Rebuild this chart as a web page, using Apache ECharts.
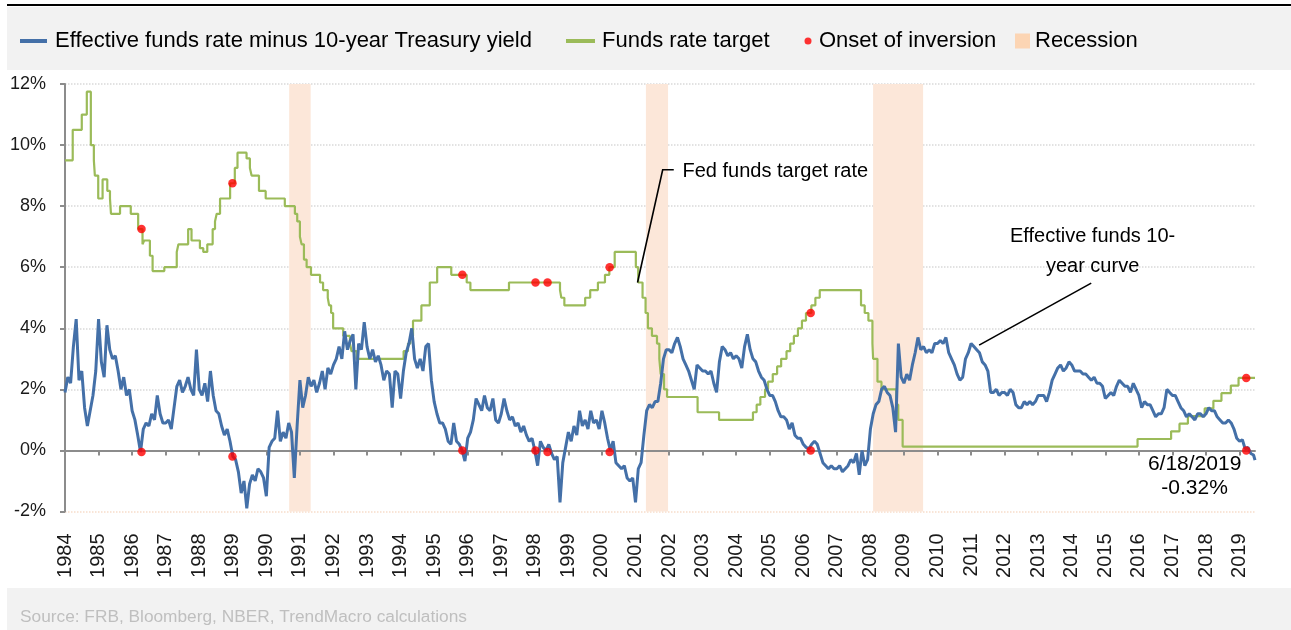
<!DOCTYPE html>
<html><head><meta charset="utf-8">
<script src="https://cdn.jsdelivr.net/npm/echarts@6/dist/echarts.min.js"></script>
<style>html,body{margin:0;padding:0;background:#fff;}#c{width:1291px;height:630px;}</style>
</head><body><div id="c"></div>
<script>
// ---------- DATA ----------
const yearLabels = [1984,1985,1986,1987,1988,1989,1990,1991,1992,1993,1994,1995,1996,1997,1998,1999,2000,2001,2002,2003,2004,2005,2006,2007,2008,2009,2010,2011,2012,2013,2014,2015,2016,2017,2018,2019];
const yTickValues = [-2,0,2,4,6,8,10,12];

// Effective funds rate minus 10-year Treasury yield, monthly from Jan 1984 (%)
const spreadStartYear = 1984;
const spreadMonthly = [
 1.9,2.4,2.2,3.4,4.3,2.3,2.6,1.4,0.8,1.3,1.8,2.6,      // 1984
 4.3,2.9,2.4,4.1,3.3,3.0,3.1,2.6,2.0,2.4,1.8,2.0,      // 1985
 1.3,1.0,0.5,-0.05,0.7,0.9,0.8,1.2,1.0,1.8,1.2,0.9,    // 1986
 0.9,1.0,0.7,1.4,2.1,2.3,1.9,2.1,2.4,2.0,1.8,3.3,      // 1987
 2.0,1.8,2.2,1.6,2.6,1.8,1.3,1.2,0.8,0.5,0.7,0.3,      // 1988
 -0.2,-0.3,-0.7,-1.4,-1.0,-1.9,-1.1,-0.8,-1.0,-0.6,-0.7,-0.9, // 1989
 -1.5,0.1,0.3,0.4,1.3,0.3,0.6,0.4,0.9,0.6,-0.9,0.8,    // 1990
 2.3,1.4,1.8,2.4,2.1,2.3,1.9,2.2,2.6,2.0,2.7,2.5,      // 1991
 2.8,3.0,3.4,3.0,3.9,3.3,3.6,3.8,2.0,3.5,3.3,4.2,      // 1992
 3.4,3.0,3.3,2.9,3.1,2.8,2.3,2.6,2.5,1.4,2.6,2.5,      // 1993
 1.7,2.6,3.2,3.5,4.0,3.0,2.7,3.0,2.6,3.4,3.5,2.3,      // 1994
 1.6,1.2,0.9,0.9,0.7,0.3,0.2,0.9,0.3,0.2,0.0,-0.35,    // 1995
 0.4,0.6,1.0,1.7,1.5,1.3,1.8,1.4,1.3,1.7,1.0,0.9,      // 1996
 1.2,1.7,1.3,1.0,1.1,0.8,0.9,0.6,0.8,0.5,0.3,0.4,      // 1997
 0.0,-0.5,0.3,0.1,0.0,0.2,-0.1,-0.3,-0.2,-1.7,-0.4,0.1, // 1998
 0.6,0.3,0.8,0.5,1.3,0.8,1.0,0.7,1.3,0.9,1.0,0.7,      // 1999
 1.3,0.9,0.4,0.0,0.3,-0.4,-0.5,-0.6,-0.5,-0.9,-1.0,-0.9, // 2000
 -1.7,-0.6,-0.4,0.5,1.3,1.5,1.4,1.6,1.6,2.2,3.0,3.3,   // 2001
 3.3,3.2,3.5,3.7,3.4,3.0,2.8,2.6,2.3,2.0,2.8,2.7,      // 2002
 2.6,2.6,2.5,2.6,2.2,1.9,2.9,3.4,3.3,3.1,3.2,3.0,      // 2003
 3.1,3.0,2.7,3.4,3.8,3.3,3.0,2.9,2.6,2.4,2.3,2.0,      // 2004
 1.8,1.8,1.6,1.3,1.1,1.1,1.0,0.7,0.9,0.5,0.4,0.4,      // 2005
 0.2,0.1,0.05,0.2,0.3,0.2,-0.1,-0.4,-0.5,-0.6,-0.5,-0.6, // 2006
 -0.6,-0.5,-0.7,-0.6,-0.5,-0.3,-0.4,-0.1,-0.8,0.0,-0.5,-0.3, // 2007
 0.7,1.2,1.5,1.6,2.0,2.1,1.9,1.8,1.4,0.6,3.5,2.4,      // 2008
 2.2,2.5,2.3,2.8,3.2,3.7,3.3,3.4,3.2,3.3,3.2,3.5,      // 2009
 3.5,3.6,3.5,3.7,3.2,3.0,2.8,2.5,2.3,2.4,3.0,3.2,      // 2010
 3.5,3.4,3.3,3.2,2.9,2.8,2.6,1.9,1.9,2.0,1.8,1.9,      // 2011
 1.9,1.8,2.0,1.9,1.5,1.4,1.4,1.6,1.5,1.6,1.5,1.6,      // 2012
 1.8,1.8,1.8,1.6,1.9,2.3,2.5,2.7,2.8,2.6,2.7,2.9,      // 2013
 2.8,2.6,2.6,2.6,2.5,2.5,2.4,2.3,2.4,2.2,2.2,2.1,      // 2014
 1.7,1.8,1.9,1.8,2.1,2.3,2.2,2.1,2.1,1.9,2.2,2.0,      // 2015
 1.8,1.4,1.6,1.5,1.5,1.3,1.1,1.2,1.2,1.4,2.0,1.9,      // 2016
 1.8,1.8,1.6,1.4,1.3,1.1,1.2,1.1,1.0,1.2,1.2,1.1,      // 2017
 1.2,1.4,1.3,1.3,1.1,1.0,0.9,0.9,1.0,0.9,0.7,0.4,      // 2018
 0.3,0.35,0.05,0.1,-0.1,-0.15                          // 2019
];
const spreadLastDate = 2019.46;   // 6/18/2019
const spreadLastValue = -0.32;

// Fed funds rate target: date of change (decimal year) and new level (%)
const targetDates = [1984.00,1984.23,1984.50,1984.65,1984.77,1984.86,1984.89,1984.99,1985.12,1985.26,1985.34,1985.37,1985.64,1985.96,
 1986.18,1986.31,1986.36,1986.53,1986.61,1986.96,1987.33,1987.38,1987.67,1987.77,1988.02,1988.12,1988.24,1988.40,1988.47,1988.52,1988.62,
 1988.92,1989.06,1989.14,1989.41,1989.51,1989.56,1989.78,1989.98,1990.55,1990.85,1990.92,1991.00,1991.05,1991.12,1991.20,1991.33,1991.60,
 1991.69,1991.83,1991.87,1991.93,1991.99,1992.29,1992.49,1992.54,1992.69,1994.09,1994.22,1994.29,1994.37,1994.62,1994.87,1995.09,1995.51,
 1995.97,1996.08,1997.23,1998.75,1998.79,1998.88,1999.50,1999.65,1999.88,2000.09,2000.22,2000.38,2001.01,2001.08,2001.21,2001.30,2001.37,
 2001.49,2001.64,2001.71,2001.75,2001.85,2001.94,2002.85,2003.49,2004.50,2004.61,2004.72,2004.86,2004.95,2005.09,2005.22,2005.34,2005.50,
 2005.61,2005.72,2005.84,2005.96,2006.08,2006.24,2006.36,2006.49,2007.72,2007.83,2007.94,2008.06,2008.08,2008.21,2008.33,2008.77,2008.83,
 2008.96,2015.96,2016.96,2017.21,2017.46,2017.96,2018.22,2018.46,2018.74,2018.97,2019.46];
const targetValues = [9.5,10.5,11.0,11.75,10.0,9.5,9.0,8.25,8.875,8.5,8.25,7.75,8.0,7.75,
 7.25,6.75,6.875,6.375,5.875,6.0,6.5,6.75,7.25,6.875,6.625,6.5,6.75,7.25,7.5,7.75,8.25,
 8.75,9.25,9.75,9.5625,9.25,9.0,8.5,8.25,8.0,7.75,7.5,7.0,6.75,6.25,6.0,5.75,5.5,
 5.25,5.0,4.75,4.5,4.0,3.75,3.5,3.25,3.0,3.25,3.5,3.75,4.25,4.75,5.5,6.0,5.75,
 5.5,5.25,5.5,5.25,5.0,4.75,5.0,5.25,5.5,5.75,6.0,6.5,6.0,5.5,5.0,4.5,4.0,
 3.75,3.5,3.0,2.5,2.0,1.75,1.25,1.0,1.25,1.5,1.75,2.0,2.25,2.5,2.75,3.0,3.25,
 3.5,3.75,4.0,4.25,4.5,4.75,5.0,5.25,4.75,4.5,4.25,3.5,3.0,2.25,2.0,1.5,1.0,
 0.125,0.375,0.625,0.875,1.125,1.375,1.625,1.875,2.125,2.375,2.375];

// Onset of inversion markers
const onsetDates  = [1986.28,1988.99,1995.84,1998.02,1998.38,2000.23,2006.22,2019.20,
                     1986.28,1988.99,1995.84,1998.02,1998.38,2000.23,2006.22,2019.20];
const onsetValues = [7.25,8.75,5.75,5.5,5.5,6.0,4.5,2.375,
                     -0.05,-0.2,0.0,0.0,-0.05,-0.05,0.0,0.0];

// Recessions (decimal years)
const recessionStarts = [1990.68, 2001.31, 2008.08];
const recessionEnds   = [1991.32, 2001.97, 2009.57];

// ---------- CHART ----------
const SANS = "'Liberation Sans',Arial,sans-serif";

const spreadData = spreadMonthly.map((v, i) => [spreadStartYear + i / 12, v]);
spreadData.push([spreadLastDate, spreadLastValue]);
const targetData = targetDates.map((d, i) => [d, targetValues[i]]);
const onsetData = onsetDates.map((d, i) => [d, onsetValues[i]]);

const chart = echarts.init(document.getElementById('c'), null, {renderer: 'canvas'});
const legendText = {fontFamily: SANS, fontSize: 22, color: '#000'};
const X_MIN = yearLabels[0], X_MAX = spreadLastDate;

chart.setOption({
  animation: false,
  backgroundColor: '#fff',
  grid: {left: 65, right: 36, top: 84, bottom: 118.5, containLabel: false},
  legend: [
    {left: 20, top: 30, padding: 0, selectedMode: false, itemWidth: 30, itemHeight: 14,
     icon: 'path://M0,0M30,14M0,5h27v4h-27z', textStyle: legendText,
     data: ['Effective funds rate minus 10-year Treasury yield']},
    {left: 566, top: 30, padding: 0, selectedMode: false, itemWidth: 31, itemHeight: 14,
     icon: 'path://M0,0M31,14M0,5h29v4h-29z', textStyle: legendText,
     data: ['Funds rate target']},
    {left: 800, top: 30, padding: 0, selectedMode: false, itemWidth: 14, itemHeight: 14,
     icon: 'path://M0,0M14,14M4.5,7a3.5,3.5 0 1,0 7,0a3.5,3.5 0 1,0 -7,0z', textStyle: legendText,
     data: ['Onset of inversion']},
    {left: 1015, top: 30, padding: 0, selectedMode: false, itemWidth: 15, itemHeight: 15,
     icon: 'rect', textStyle: legendText, data: ['Recession']}
  ],
  xAxis: [
    {type: 'value', min: X_MIN, max: X_MAX, interval: 1, position: 'bottom',
     axisLine: {show: false, onZero: false}, axisTick: {show: false}, splitLine: {show: false},
     axisLabel: {rotate: 90, margin: 22, fontSize: 20, fontFamily: SANS, color: '#1a1a1a',
                 customValues: yearLabels, formatter: v => String(Math.round(v))}},
    {type: 'value', min: X_MIN, max: X_MAX, interval: 1, position: 'bottom', z: 2,
     axisLine: {show: true, onZero: true, lineStyle: {color: '#8c8c8c', width: 2}},
     axisTick: {show: true, length: 5, customValues: yearLabels, lineStyle: {color: '#8c8c8c', width: 2}},
     axisLabel: {show: false}, splitLine: {show: false}}
  ],
  yAxis: {type: 'value', min: yTickValues[0], max: yTickValues[yTickValues.length - 1], interval: 2,
    axisLine: {show: true, lineStyle: {color: '#8c8c8c', width: 2}},
    axisTick: {show: true, length: 5, lineStyle: {color: '#8c8c8c', width: 2}},
    axisLabel: {formatter: '{value}%', fontSize: 18, fontFamily: SANS, color: '#1a1a1a', margin: 19},
    splitLine: {show: true, lineStyle: {type: 'dotted', width: 1.5,
      color: ['#f8ddca','#d9d9d9','#d9d9d9','#d9d9d9','#d9d9d9','#d9d9d9','#d9d9d9','#d9d9d9']}}
  },
  series: [
    {name: 'Recession', type: 'line', data: [], color: '#fcd5b4', z: 1,
     markArea: {silent: true, z: 1, itemStyle: {color: '#fce7d9'},
       data: recessionStarts.map((s, i) => [{xAxis: s}, {xAxis: recessionEnds[i]}])}},
    {name: 'Funds rate target', type: 'line', step: 'end', data: targetData, color: '#9bbb59',
     showSymbol: false, symbol: 'none', z: 3, lineStyle: {color: '#9bbb59', width: 2.2}},
    {name: 'Effective funds rate minus 10-year Treasury yield', type: 'line', data: spreadData,
     color: '#4470a8', showSymbol: false, symbol: 'none', z: 4,
     lineStyle: {color: '#4470a8', width: 3}},
    {name: 'Onset of inversion', type: 'scatter', data: onsetData, color: '#ff0000',
     symbolSize: 8.5, z: 5, itemStyle: {color: '#ff0000'}}
  ]
});

// ---------- DECORATION & ANNOTATIONS ----------
function px(x, y) { return chart.convertToPixel({xAxisIndex: 0, yAxisIndex: 0}, [x, y]); }
const fedLine = [[2001.06, 5.5], [2001.81, 9.19], [2002.14, 9.19]].map(p => px(p[0], p[1]));
const fedText = px(2002.40, 9.15);
const effLine = [[2011.24, 3.45], [2014.58, 5.48]].map(p => px(p[0], p[1]));
const effText = px(2014.62, 6.52);
const lastText = px(2017.66, -0.86);

chart.setOption({
  graphic: [
    {type: 'rect', z: -1, shape: {x: 7, y: 4, width: 1284, height: 2}, style: {fill: '#000'}},
    {type: 'rect', z: -1, shape: {x: 7, y: 7, width: 1284, height: 63}, style: {fill: '#f2f2f2'}},
    {type: 'rect', z: -1, shape: {x: 7, y: 588, width: 1284, height: 42}, style: {fill: '#f2f2f2'}},
    {type: 'text', x: 20, y: 617, style: {text: 'Source: FRB, Bloomberg, NBER, TrendMacro calculations',
      fontFamily: SANS, fontSize: 17.3, fill: '#bfbfbf', verticalAlign: 'middle', align: 'left'}},
    {type: 'polyline', z: 10, shape: {points: fedLine}, style: {stroke: '#000', lineWidth: 1.6, fill: null}},
    {type: 'text', z: 10, x: fedText[0], y: fedText[1], style: {text: 'Fed funds target rate',
      fontFamily: SANS, fontSize: 20, fill: '#000', verticalAlign: 'middle', align: 'left'}},
    {type: 'polyline', z: 10, shape: {points: effLine}, style: {stroke: '#000', lineWidth: 1.6, fill: null}},
    {type: 'text', z: 10, x: effText[0], y: effText[1], style: {text: 'Effective funds 10-\nyear curve',
      fontFamily: SANS, fontSize: 20, lineHeight: 30, fill: '#000', verticalAlign: 'middle', align: 'center'}},
    {type: 'text', z: 10, x: lastText[0], y: lastText[1], style: {text: '6/18/2019\n-0.32%',
      fontFamily: SANS, fontSize: 21, lineHeight: 24, fill: '#000', verticalAlign: 'middle', align: 'center'}}
  ]
});
</script>
</body></html>
